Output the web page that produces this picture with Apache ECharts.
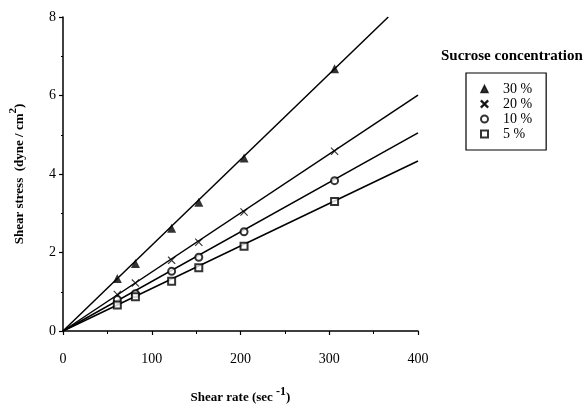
<!DOCTYPE html>
<html><head><meta charset="utf-8">
<script src="https://cdn.jsdelivr.net/npm/echarts@6/dist/echarts.min.js"></script>
<style>html,body{margin:0;padding:0;background:#fff}#c{width:588px;height:409px}</style>
</head><body><div id="c"></div>
<script>
var shearRate = [61.2, 81.6, 122.4, 153, 204, 306];
var stress30 = [1.34, 1.72, 2.62, 3.28, 4.41, 6.68];
var stress20 = [0.93, 1.22, 1.80, 2.26, 3.03, 4.58];
var stress10 = [0.80, 0.95, 1.52, 1.88, 2.53, 3.83];
var stress5  = [0.66, 0.87, 1.27, 1.61, 2.16, 3.30];
var fit30 = [[0, 0], [366.5, 8]];
var fit20 = [[0, 0], [400, 6.01]];
var fit10 = [[0, 0], [400, 5.05]];
var fit5  = [[0, 0], [400, 4.33]];
var names = ['30 %', '20 %', '10 %', '5 %'];
var xTicks = [0, 100, 200, 300, 400];
var yTicks = [0, 2, 4, 6, 8];

var FONT = 'Liberation Serif';
var crossPath = 'path://M1,0 L5,4 L9,0 L10,1 L6,5 L10,9 L9,10 L5,6 L1,10 L0,9 L4,5 L0,1 Z';
var symbols = ['triangle', crossPath, 'emptyCircle', 'emptyRect'];
var sizes = [9, 8, 7, 7];
var all = [stress30, stress20, stress10, stress5];
var fits = [fit30, fit20, fit10, fit5];

function pts(ys) { return shearRate.map(function (x, i) { return [x, ys[i]]; }); }

var series = [];
for (var k = 0; k < 4; k++) {
  series.push({
    type: 'line', data: fits[k], showSymbol: false, symbol: 'none',
    lineStyle: {color: '#000', width: 1.5}, silent: true, z: 2
  });
}
for (var k = 0; k < 4; k++) {
  series.push({
    name: names[k], type: 'scatter', data: pts(all[k]),
    symbol: symbols[k], symbolSize: sizes[k],
    itemStyle: {color: '#000', borderColor: '#000', borderWidth: (k < 2 ? 0 : 1.2)},
    z: 3
  });
}

var chart = echarts.init(document.getElementById('c'), null, {renderer: 'canvas'});
chart.setOption({
  animation: false,
  backgroundColor: '#fff',
  title: {
    text: 'Sucrose concentration', left: 436, top: 44,
    textStyle: {fontFamily: FONT, fontWeight: 'bold', fontSize: 15, color: '#000'}
  },
  legend: {
    data: names.map(function (n, i) {
      return {name: n, icon: symbols[i]};
    }),
    orient: 'vertical', left: 466, top: 73,
    itemWidth: 7, itemHeight: 7, itemGap: 1,
    padding: [9, 14, 9, 14],
    width: 83,
    borderColor: '#000', borderWidth: 1.2,
    textStyle: {fontFamily: FONT, fontSize: 14, lineHeight: 13, color: '#000', padding: [0, 0, 0, 10]},
    itemStyle: {color: '#000', borderColor: '#000', borderWidth: 1.5},
    selectedMode: false
  },
  grid: {left: 63, right: 170, top: 17, bottom: 72},
  xAxis: {
    type: 'value', min: 0, max: 400, interval: 100,
    name: '{b|Shear rate (sec }{s|-1}{b|)}', nameLocation: 'middle', nameGap: 55,
    nameTextStyle: {
      rich: {
        b: {fontFamily: FONT, fontWeight: 'bold', fontSize: 13, color: '#000', lineHeight: 18, verticalAlign: 'bottom'},
        s: {fontFamily: FONT, fontWeight: 'bold', fontSize: 12, color: '#000', lineHeight: 10, verticalAlign: 'top'}
      }
    },
    axisLine: {lineStyle: {color: '#000', width: 1.5}},
    axisTick: {show: true, length: 4, lineStyle: {color: '#000', width: 1.2}},
    minorTick: {show: true, splitNumber: 2, length: 3, lineStyle: {color: '#000', width: 1}},
    splitLine: {show: false},
    axisLabel: {fontFamily: FONT, fontSize: 14, color: '#000', margin: 21,
      formatter: function (v) { return xTicks.indexOf(v) >= 0 ? String(v) : ''; }}
  },
  yAxis: {
    type: 'value', min: 0, max: 8, interval: 2,
    name: '{b|Shear stress  (dyne / cm}{s|2}{b|)}', nameLocation: 'middle', nameGap: 37, nameRotate: 90,
    nameTextStyle: {
      rich: {
        b: {fontFamily: FONT, fontWeight: 'bold', fontSize: 13, color: '#000', lineHeight: 18, verticalAlign: 'bottom'},
        s: {fontFamily: FONT, fontWeight: 'bold', fontSize: 11, color: '#000', lineHeight: 10, verticalAlign: 'top'}
      }
    },
    axisLine: {show: true, lineStyle: {color: '#000', width: 1.5}},
    axisTick: {show: true, length: 4, lineStyle: {color: '#000', width: 1.2}},
    minorTick: {show: true, splitNumber: 2, length: 2, lineStyle: {color: '#000', width: 1}},
    splitLine: {show: false},
    axisLabel: {fontFamily: FONT, fontSize: 14, color: '#000', margin: 7,
      formatter: function (v) { return yTicks.indexOf(v) >= 0 ? String(v) : ''; }}
  },
  series: series
});
</script>
</body></html>
